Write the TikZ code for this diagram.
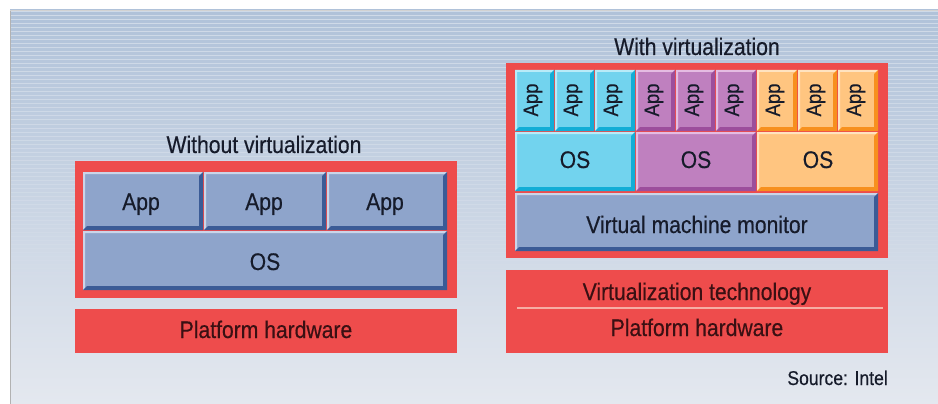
\documentclass[tikz,border=0pt]{standalone}
\usepackage{fontspec}
\setmainfont[FakeStretch=0.88,FakeBold=0.4]{Liberation Sans}
\definecolor{bgtop}{HTML}{B0C2D9}
\definecolor{bgbot}{HTML}{E4E8EF}
\definecolor{hwred}{HTML}{EE4C4C}
\definecolor{blueM}{HTML}{8EA4CB}
\definecolor{blueL}{HTML}{CBD5E8}
\definecolor{blueD}{HTML}{3B5B96}
\definecolor{cyanM}{HTML}{72D3EE}
\definecolor{cyanL}{HTML}{B8EBF8}
\definecolor{cyanD}{HTML}{12ADD6}
\definecolor{purpM}{HTML}{BF80BF}
\definecolor{purpL}{HTML}{E5BCE2}
\definecolor{purpD}{HTML}{9C4E9C}
\definecolor{oranM}{HTML}{FFC580}
\definecolor{oranL}{HTML}{FFE3C0}
\definecolor{oranD}{HTML}{F7901E}
\definecolor{txtD}{HTML}{161B2A}
\definecolor{txtR}{HTML}{3A1013}
\definecolor{divline}{HTML}{F6ADA4}
\newcommand\bevbox[7]{%
  \fill[#5] (#1,#2) rectangle (#3,#4);
  \fill[#6] (#1,#4) -- (#1,#2) -- (#3,#2) -- (#3-2,#2+2) -- (#1+2,#2+2) -- (#1+2,#4-2) -- cycle;
  \fill[#7] (#1,#4) -- (#3,#4) -- (#3,#2) -- (#3-4,#2+4) -- (#3-4,#4-4) -- (#1+4,#4-4) -- cycle;
}
\tikzset{
  lbl/.style={font=\fontsize{24}{26}\selectfont, text=txtD, inner sep=0pt, anchor=base},
  lblr/.style={lbl, text=txtR},
  vapp/.style={font=\fontsize{21}{22}\selectfont, text=txtD, inner sep=0pt, rotate=90, anchor=center},
}
\begin{document}
\begin{tikzpicture}[x=1pt,y=-1pt]
\useasboundingbox (0,0) rectangle (938,404);
\fill[white] (0,0) rectangle (938,404);
% background
\shade[top color=bgtop, bottom color=bgbot] (10,10) rectangle (938,404);
\foreach \i in {0,...,70} {
  \pgfmathsetmacro\op{0.4*(1-\i/70)}
  \draw[white, line width=1pt, opacity=\op] (10,12+4*\i) -- (938,12+4*\i);
}
\draw[color=gray!60, line width=1.2pt] (10.5,10) -- (10.5,404);
\draw[color=gray!35, line width=0.8pt] (10,10.4) -- (938,10.4);

% ---------- Without virtualization ----------
\node[lbl] (tWithout) at (264,153) {Without virtualization};
\fill[hwred] (75,161) rectangle (457,298);
\bevbox{83}{172}{203}{230}{blueM}{blueL}{blueD}
\bevbox{204}{172}{326}{230}{blueM}{blueL}{blueD}
\bevbox{327}{172}{447}{230}{blueM}{blueL}{blueD}
\bevbox{83}{231}{447}{290}{blueM}{blueL}{blueD}
\node[lbl] (la1) at (141,210) {App};
\node[lbl] (la2) at (264,210) {App};
\node[lbl] (la3) at (385,210) {App};
\node[lbl] (los) at (265,270) {OS};
\fill[hwred] (75,309) rectangle (457,353);
\node[lblr] (lhw) at (266,338) {Platform hardware};

% ---------- With virtualization ----------
\node[lbl] (tWith) at (697,55) {With virtualization};
\fill[hwred] (506,63) rectangle (888,258);
% apps
\bevbox{515}{70}{554}{131}{cyanM}{cyanL}{cyanD}
\bevbox{555}{70}{594}{131}{cyanM}{cyanL}{cyanD}
\bevbox{595}{70}{635}{131}{cyanM}{cyanL}{cyanD}
\bevbox{636}{70}{675}{131}{purpM}{purpL}{purpD}
\bevbox{676}{70}{715}{131}{purpM}{purpL}{purpD}
\bevbox{716}{70}{756}{131}{purpM}{purpL}{purpD}
\bevbox{757}{70}{797}{131}{oranM}{oranL}{oranD}
\bevbox{798}{70}{837}{131}{oranM}{oranL}{oranD}
\bevbox{838}{70}{878}{131}{oranM}{oranL}{oranD}
\node[vapp] (ra1) at (533,100) {App};
\node[vapp] (ra2) at (573,100) {App};
\node[vapp] (ra3) at (613,100) {App};
\node[vapp] (ra4) at (654,100) {App};
\node[vapp] (ra5) at (694,100) {App};
\node[vapp] (ra6) at (734,100) {App};
\node[vapp] (ra7) at (775,100) {App};
\node[vapp] (ra8) at (816,100) {App};
\node[vapp] (ra9) at (856,100) {App};
% guest OSes
\bevbox{515}{132}{635}{191}{cyanM}{cyanL}{cyanD}
\bevbox{636}{132}{756}{191}{purpM}{purpL}{purpD}
\bevbox{757}{132}{878}{191}{oranM}{oranL}{oranD}
\node[lbl] (ros1) at (575,168) {OS};
\node[lbl] (ros2) at (696,168) {OS};
\node[lbl] (ros3) at (818,168) {OS};
% VMM
\bevbox{515}{193}{878}{251}{blueM}{blueL}{blueD}
\node[lbl] (vmm) at (697,233) {Virtual machine monitor};
% hardware
\fill[hwred] (506,270) rectangle (888,353);
\draw[divline, line width=1.3pt] (517,308) -- (883,308);
\node[lblr] (vt) at (697,300) {Virtualization technology};
\node[lblr] (rhw) at (697,336) {Platform hardware};
% source
\node[lbl, anchor=base east, font=\fontsize{20}{22}\selectfont] (src) at (888,385) {Source: Intel};
\end{tikzpicture}
\end{document}
